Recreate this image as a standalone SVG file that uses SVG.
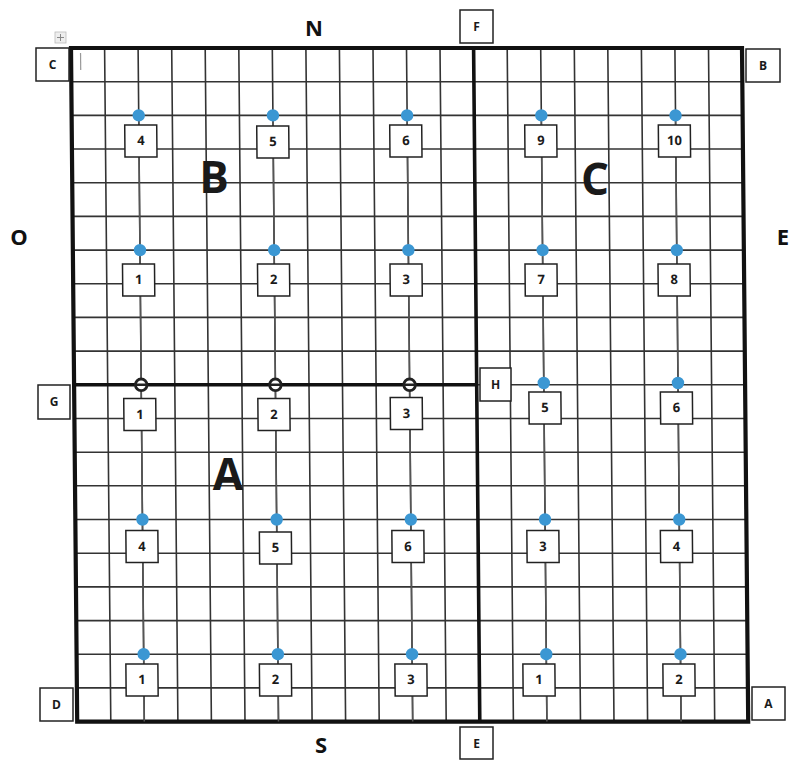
<svg xmlns="http://www.w3.org/2000/svg" width="794" height="766" viewBox="0 0 794 766">
<style>
.g{stroke:#333;stroke-width:1.6;fill:none}
.thick{stroke:#111;stroke-width:4.2;fill:none;stroke-linecap:square}
.mid{stroke:#111;stroke-width:3.6;fill:none}
.conn{stroke:#555;stroke-width:1.5;fill:none}
.dot{fill:#3b97d3}
.ring{fill:#fff;stroke:#222;stroke-width:2.8}
.bar{stroke:#222;stroke-width:2.6}
.box{fill:#fff;stroke:#222;stroke-width:1.5}
.nt{font-family:"Open Sans","Liberation Sans",sans-serif;font-weight:bold;font-size:13px;fill:#1a1a1a;text-anchor:middle}
.lb{font-family:"Open Sans","Liberation Sans",sans-serif;font-weight:bold;font-size:12px;fill:#1a1a1a;text-anchor:middle}
.dir{font-family:"Open Sans","Liberation Sans",sans-serif;font-weight:bold;font-size:22px;fill:#111;text-anchor:middle}
.reg{font-family:"Open Sans","Liberation Sans",sans-serif;font-weight:bold;font-size:44px;fill:#1a1a1a;text-anchor:middle}
</style>
<defs>
<g id="n"><rect class="box" x="-16" y="-16" width="32" height="32"/></g>
<g id="r"><circle class="ring" r="5.8"/><path class="bar" d="M-6 0H6"/></g>
</defs>
<rect width="794" height="766" fill="#fff"/>
<g transform="matrix(1,0,0.0092,1,-0.44,0)">
<g id="grid">
<path class="g" d="M104.6 48V721.6M138.1 48V721.6M171.7 48V721.6M205.2 48V721.6M238.8 48V721.6M272.3 48V721.6M305.9 48V721.6M339.4 48V721.6M373 48V721.6M406.5 48V721.6M440 48V721.6M507.2 48V721.6M540.7 48V721.6M574.3 48V721.6M607.8 48V721.6M641.4 48V721.6M674.9 48V721.6M708.5 48V721.6"/>
<path class="g" d="M71 81.7H742M71 115.4H742M71 149H742M71 182.7H742M71 216.4H742M71 250.1H742M71 283.8H742M71 317.4H742M71 351.1H742M473.6 384.8H742M71 418.5H742M71 452.2H742M71 485.8H742M71 519.5H742M71 553.2H742M71 586.9H742M71 620.6H742M71 654.2H742M71 687.9H742"/>
<rect class="thick" x="71" y="48" width="671" height="673.6"/>
<path class="mid" d="M473.6 48V721.6M71 384.8H473.6"/>
<path d="M80.5 53V70" stroke="#999" stroke-width="1.2"/>
</g>
<g id="connectors">
<path class="conn" d="M138.1 115.4V721.6M272.3 115.4V721.6M406.5 115.4V721.6M540.7 115.4V721.6M674.9 115.4V721.6"/>
</g>
<g id="dots">
<circle class="dot" cx="138.1" cy="115.4" r="6.2"/><circle class="dot" cx="272.3" cy="115.4" r="6.2"/><circle class="dot" cx="406.5" cy="115.4" r="6.2"/><circle class="dot" cx="540.7" cy="115.4" r="6.2"/><circle class="dot" cx="674.9" cy="115.4" r="6.2"/>
<circle class="dot" cx="138.1" cy="250.1" r="6.2"/><circle class="dot" cx="272.3" cy="250.1" r="6.2"/><circle class="dot" cx="406.5" cy="250.1" r="6.2"/><circle class="dot" cx="540.7" cy="250.1" r="6.2"/><circle class="dot" cx="674.9" cy="250.1" r="6.2"/>
<use href="#r" x="138.1" y="384.8"/><use href="#r" x="272.3" y="384.8"/><use href="#r" x="406.5" y="384.8"/><circle class="dot" cx="540.7" cy="383" r="6.2"/><circle class="dot" cx="674.9" cy="383" r="6.2"/>
<circle class="dot" cx="138.1" cy="519.5" r="6.2"/><circle class="dot" cx="272.3" cy="519.5" r="6.2"/><circle class="dot" cx="406.5" cy="519.5" r="6.2"/><circle class="dot" cx="540.7" cy="519.5" r="6.2"/><circle class="dot" cx="674.9" cy="519.5" r="6.2"/>
<circle class="dot" cx="138.1" cy="654.2" r="6.2"/><circle class="dot" cx="272.3" cy="654.2" r="6.2"/><circle class="dot" cx="406.5" cy="654.2" r="6.2"/><circle class="dot" cx="540.7" cy="654.2" r="6.2"/><circle class="dot" cx="674.9" cy="654.2" r="6.2"/>
</g>
<g id="B4"><use href="#n" x="140" y="141"/><text class="nt" x="140" y="145.5">4</text></g>
<g id="B5"><use href="#n" x="272" y="142"/><text class="nt" x="272" y="146.5">5</text></g>
<g id="B6"><use href="#n" x="405" y="141"/><text class="nt" x="405" y="145.5">6</text></g>
<g id="C9"><use href="#n" x="540" y="141"/><text class="nt" x="540" y="145.5">9</text></g>
<g id="C10"><use href="#n" x="673.6" y="141"/><text class="nt" x="673.6" y="145.5">10</text></g>
<g id="B1"><use href="#n" x="136.5" y="280"/><text class="nt" x="136.5" y="284.5">1</text></g>
<g id="B2"><use href="#n" x="271.5" y="280"/><text class="nt" x="271.5" y="284.5">2</text></g>
<g id="B3"><use href="#n" x="404" y="280"/><text class="nt" x="404" y="284.5">3</text></g>
<g id="C7"><use href="#n" x="539" y="280"/><text class="nt" x="539" y="284.5">7</text></g>
<g id="C8"><use href="#n" x="672" y="280"/><text class="nt" x="672" y="284.5">8</text></g>
<g id="A1a"><use href="#n" x="136.5" y="414.5"/><text class="nt" x="136.5" y="419">1</text></g>
<g id="A2a"><use href="#n" x="270.6" y="414.5"/><text class="nt" x="270.6" y="419">2</text></g>
<g id="A3a"><use href="#n" x="403" y="413.5"/><text class="nt" x="403" y="418">3</text></g>
<g id="C5"><use href="#n" x="541.7" y="408"/><text class="nt" x="541.7" y="412.5">5</text></g>
<g id="C6"><use href="#n" x="673.2" y="408"/><text class="nt" x="673.2" y="412.5">6</text></g>
<g id="A4"><use href="#n" x="137.4" y="546.5"/><text class="nt" x="137.4" y="551">4</text></g>
<g id="A5"><use href="#n" x="270.9" y="548"/><text class="nt" x="270.9" y="552.5">5</text></g>
<g id="A6"><use href="#n" x="403.4" y="546.5"/><text class="nt" x="403.4" y="551">6</text></g>
<g id="C3"><use href="#n" x="538.4" y="546.5"/><text class="nt" x="538.4" y="551">3</text></g>
<g id="C4"><use href="#n" x="671.9" y="546.5"/><text class="nt" x="671.9" y="551">4</text></g>
<g id="A1b"><use href="#n" x="136.2" y="680"/><text class="nt" x="136.2" y="684.5">1</text></g>
<g id="A2b"><use href="#n" x="269.7" y="680"/><text class="nt" x="269.7" y="684.5">2</text></g>
<g id="A3b"><use href="#n" x="405.2" y="680"/><text class="nt" x="405.2" y="684.5">3</text></g>
<g id="C1"><use href="#n" x="533.2" y="680"/><text class="nt" x="533.2" y="684.5">1</text></g>
<g id="C2"><use href="#n" x="673.2" y="680"/><text class="nt" x="673.2" y="684.5">2</text></g>
</g>
<g id="regions">
<text class="reg" x="214" y="193">B</text>
<text class="reg" x="595" y="195">C</text>
<text class="reg" x="228" y="490">A</text>
</g>
<g id="directions">
<text class="dir" x="314" y="36">N</text>
<text class="dir" x="321" y="753">S</text>
<text class="dir" x="19" y="245">O</text>
<text class="dir" x="783" y="245" text-anchor="start">E</text>
</g>
<g id="handle">
<rect x="55" y="32" width="11" height="11" fill="#eee" stroke="#bbb" stroke-width="0.8"/>
<path d="M60.5 34V41M57 37.5H64" stroke="#888" stroke-width="1"/>
</g>
<g id="labelC"><rect class="box" x="36" y="48" width="33" height="33"/><text class="lb" x="52.5" y="69">C</text></g>
<g id="labelF"><rect class="box" x="460" y="10" width="33" height="33"/><text class="lb" x="476.5" y="31">F</text></g>
<g id="labelB"><rect class="box" x="746" y="49" width="34" height="33"/><text class="lb" x="763" y="70">B</text></g>
<g id="labelG"><rect class="box" x="38" y="385" width="32" height="34"/><text class="lb" x="54" y="406">G</text></g>
<g id="labelH"><rect class="box" x="480" y="368" width="31" height="33"/><text class="lb" x="495.5" y="389">H</text></g>
<g id="labelD"><rect class="box" x="40" y="688" width="33" height="33"/><text class="lb" x="56.5" y="709">D</text></g>
<g id="labelA"><rect class="box" x="752" y="687" width="33" height="33"/><text class="lb" x="768.5" y="708">A</text></g>
<g id="labelE"><rect class="box" x="460" y="727" width="33" height="32"/><text class="lb" x="476.5" y="747.5">E</text></g>
</svg>
